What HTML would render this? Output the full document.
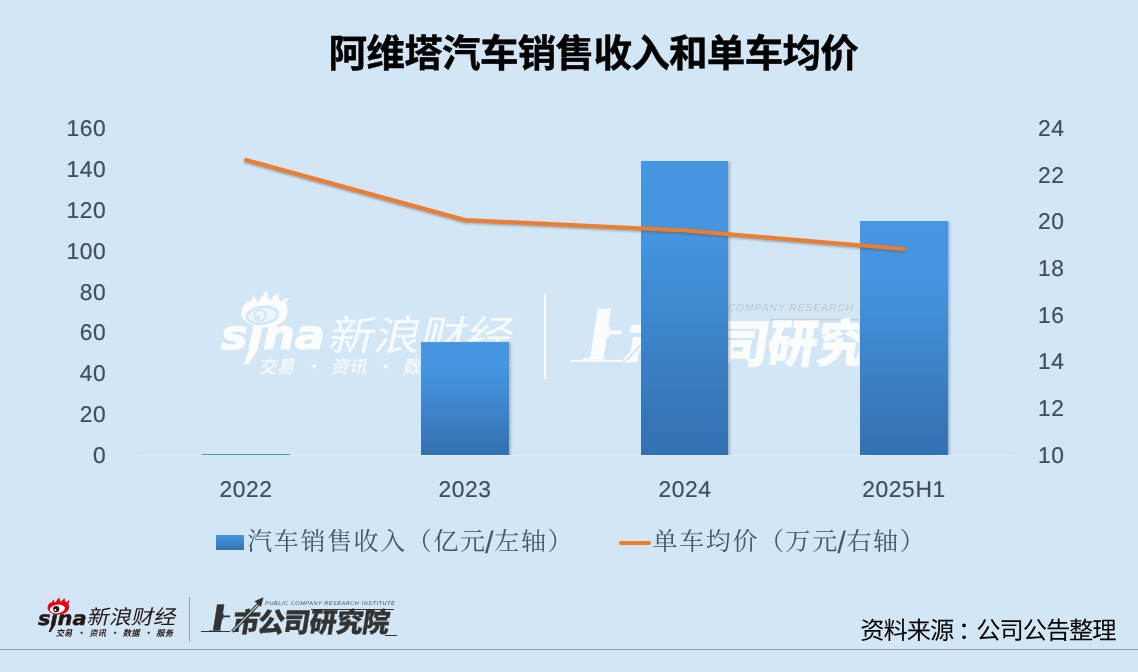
<!DOCTYPE html>
<html lang="zh-CN">
<head>
<meta charset="utf-8">
<title>阿维塔汽车销售收入和单车均价</title>
<style>
html,body{margin:0;padding:0;}
body{text-rendering:geometricPrecision;width:1138px;height:672px;overflow:hidden;background:#d2e6f5;position:relative;font-family:"Liberation Sans","Noto Sans CJK SC",sans-serif;}
.abs{position:absolute;white-space:nowrap;}
.title{-webkit-text-stroke:.45px #000;left:328.6px;top:27.1px;text-align:left;font-size:38.6px;font-weight:700;color:#000;line-height:56px;letter-spacing:-.75px;}
.ax{font-size:22.8px;color:#3f4e66;line-height:24px;letter-spacing:.6px;-webkit-text-stroke:.2px #3f4e66;}
.axl{text-align:right;width:60px;left:46.4px;}
.axr{text-align:left;left:1038px;}
.cat{text-align:center;width:120px;}
.bar{position:absolute;clip-path:inset(-6px -6px 0 -6px);background:linear-gradient(#4696e1 0%,#4595e0 25%,#3370af 100%);box-shadow:1.5px 1px 2px rgba(80,100,130,.35);}
.leg{font-size:25px;color:#44546a;line-height:30px;letter-spacing:1.6px;font-family:"Liberation Sans","Noto Serif CJK SC",serif;font-weight:400}
.sl{font-size:31px;line-height:0;position:relative;top:2.5px;margin:0 -1px 0 -1.5px}
.src{font-size:24.3px;color:#000;line-height:30px;letter-spacing:-1.1px;}
.hr{position:absolute;left:0;width:1138px;top:648.8px;height:1.3px;background:#9e9c9e;}

.lg{position:absolute;transform-origin:0 0;white-space:nowrap;}
.lg *{position:absolute;white-space:nowrap;}
.lg .cn i{position:static;font-style:normal}
.lg .cn i.sh{display:inline-block;letter-spacing:0;margin:0 -.2px 0 -7.7px;transform:scale(1.6,1.3);transform-origin:50% 64%;clip-path:polygon(8px 0,15.6px 0,15.6px 14.9px,19.8px 14.9px,19.8px 16.3px,15.6px 16.3px,15.6px 26.7px,8px 26.7px)}
.lg .sina{left:0px;top:10.5px;font:oblique 700 19.2px/24px "DejaVu Sans",sans-serif;color:#231815;transform:scaleX(1.09);transform-origin:0 0;letter-spacing:0;-webkit-text-stroke:.5px #231815}
.lg .jd{left:11.6px;top:27.5px;width:4.2px;height:8px;background:#231815;transform:skewX(-22deg);clip-path:polygon(0 0,100% 0,55% 100%,0 100%)}
.lg .xl{left:46.8px;top:6.3px;font:400 20px/28px "Noto Sans CJK SC",sans-serif;color:#231815;transform:skewX(-13deg) scaleX(1.112);transform-origin:0 100%;letter-spacing:0}
.lg .tag{left:17px;top:31.1px;font:700 8.3px/12px "Noto Sans CJK SC",sans-serif;color:#231815;transform:skewX(-13deg);transform-origin:0 100%;letter-spacing:.1px;word-spacing:2.2px}
.lg .dv{left:151px;top:1px;width:1px;height:45px;background:#9aa3ad}
.lg .eye{left:8.5px;top:0.5px}
.lg .cn{left:9px;top:6.2px;-webkit-text-stroke:.3px;font:900 27px/36px "Noto Sans CJK SC",sans-serif;color:#333;transform:skewX(-9deg);transform-origin:0 100%;letter-spacing:-1.7px}
.lg .en{left:63.8px;top:4.2px;font:italic 400 5.5px/7px "Liberation Sans",sans-serif;color:#4a4a4a;letter-spacing:.58px}
.lg .l1{left:-0.5px;top:33.6px;width:29px;height:1.5px;background:#333}
.lg .l2{left:183px;top:37.5px;width:12px;height:1.3px;background:#333}
.lg .l3{left:109px;top:11.6px;width:83px;height:1px;background:#333}
.lg .ar{left:26px;top:-1px}
.wm .sina,.wm .xl,.wm .tag,.wm .cn,.wm .en{color:#fff;-webkit-text-stroke-color:#fff}
.wm .jd,.wm .dv,.wm .l1,.wm .l2,.wm .l3{background:#fff}
.wm .l3{background:#c9d0d8}
.wm .tag{opacity:.75}
.wm .xl{opacity:.92;left:48px;top:6.5px;transform:skewX(-13deg) scale(1.075,.96)}
.wm .en{color:#bcc4cc;margin-left:-3.5px}
</style>
</head>
<body>
<div class="abs title">阿维塔汽车销售收入和单车均价</div>

<!-- left axis -->
<div class="abs ax axl" style="top:116px">160</div>
<div class="abs ax axl" style="top:157px">140</div>
<div class="abs ax axl" style="top:198px">120</div>
<div class="abs ax axl" style="top:239px">100</div>
<div class="abs ax axl" style="top:280px">80</div>
<div class="abs ax axl" style="top:320px">60</div>
<div class="abs ax axl" style="top:361px">40</div>
<div class="abs ax axl" style="top:402px">20</div>
<div class="abs ax axl" style="top:443px">0</div>
<!-- right axis -->
<div class="abs ax axr" style="top:116px">24</div>
<div class="abs ax axr" style="top:163px">22</div>
<div class="abs ax axr" style="top:209px">20</div>
<div class="abs ax axr" style="top:256px">18</div>
<div class="abs ax axr" style="top:303px">16</div>
<div class="abs ax axr" style="top:349px">14</div>
<div class="abs ax axr" style="top:396px">12</div>
<div class="abs ax axr" style="top:443px">10</div>

<!-- watermark -->
<div class="abs" id="wm" style="left:0;top:0;width:859px;height:672px;overflow:hidden;opacity:.9;filter:blur(.35px)">
<div class="lg wm" style="left:220.8px;top:287.8px;transform:scale(2.14,2.115)"><span class="sina">sina</span><span class="jd"></span>
<svg class="eye" width="24" height="19" viewBox="0 0 24 19"><path d="M0.6 11.5C0.3 8.5 2 6 4.4 4.9L4.5 6.3C4.9 4.7 5.5 3.6 6.6 2.5C6.7 4 7.5 5 8.7 5.7C9.3 3.6 10.6 1.6 12.9 0.2C12.2 2.2 12.8 3.9 14.2 5C15 3.2 16.2 1.9 18.3 1.2C17.4 2.8 17.8 4.3 19.2 5.4C20 4.4 21.2 3.8 23.1 3.6C21.9 4.8 21.4 6 21.5 7.2C22.5 9.4 22.2 12.2 20.6 14.1C18.7 16.5 14.8 17.8 10.8 17.6C6 17.4 1.3 15.4 0.6 11.5Z" fill="#fff"/><ellipse cx="10.4" cy="11.9" rx="7.3" ry="4" transform="rotate(-8 10.4 11.9)" fill="#f1f7fc" stroke="#d2e6f5" stroke-width="1.2"/><circle cx="9.2" cy="12" r="2.6" fill="#f1f7fc" stroke="#d2e6f5" stroke-width="1"/><circle cx="8.5" cy="12.8" r="1" fill="#d2e6f5"/></svg>
<span class="xl">新浪财经</span><span class="tag">交易 · 资讯 · 数据 · 服务</span></div>
<div class="abs" style="left:544.3px;top:294px;width:2px;height:85px;background:#fff"></div>
<div class="lg wm" style="left:569.7px;top:295.5px;transform:scale(1.84,1.886)"><span class="l1"></span><span class="l2"></span><span class="l3"></span>
<span class="cn"><i class="sh">上</i>市公<i style="letter-spacing:-.7px">司</i><i style="letter-spacing:-.2px">研</i><i style="letter-spacing:-.7px">究</i>院</span><span class="en">PUBLIC COMPANY RESEARCH INSTITUTE</span>
<svg class="ar" width="38" height="38" viewBox="0 0 38 38"><path d="M4.2 35.6L31.2 7.4" stroke="#fff" stroke-width="3.3" fill="none"/><path d="M4.6 35.2L30 8.7" stroke="#d2e6f5" stroke-width="1.1" fill="none"/><path d="M35.6 1.2L26.4 5.2L33 10.8Z" fill="#fff"/></svg></div>
</div>

<!-- axis line -->
<div class="abs" style="left:137px;top:455px;width:877px;height:1px;background:#dcebf6"></div>

<!-- bars -->
<div class="bar" style="left:202px;top:454px;width:88px;height:1px;background:#4a90d9;box-shadow:none"></div>
<div class="bar" style="left:421px;top:342px;width:88px;height:113px"></div>
<div class="bar" style="left:641px;top:161px;width:87px;height:294px"></div>
<div class="bar" style="left:860px;top:221px;width:88px;height:234px"></div>

<!-- line -->
<svg class="abs" style="left:0;top:0;filter:blur(1.2px)" width="1138" height="672" viewBox="0 0 1138 672">
<polyline points="246,161.5 465,221.5 685,232 904,250.5" fill="none" stroke="#55504a" stroke-opacity=".45" stroke-width="4" stroke-linecap="round" stroke-linejoin="round"/>
</svg>
<svg class="abs" style="left:0;top:0" width="1138" height="672" viewBox="0 0 1138 672">
<polyline points="246,160 465,220 685,230.5 904,249" fill="none" stroke="#ed7d31" stroke-width="4" stroke-linecap="round" stroke-linejoin="round"/>
</svg>

<!-- category labels -->
<div class="abs ax cat" style="left:186px;top:477px">2022</div>
<div class="abs ax cat" style="left:405px;top:477px">2023</div>
<div class="abs ax cat" style="left:625px;top:477px">2024</div>
<div class="abs ax cat" style="left:844px;top:477px">2025H1</div>

<!-- legend -->
<div class="abs" style="left:216px;top:535px;width:28px;height:15px;background:linear-gradient(#4696e1,#3672b0)"></div>
<div class="abs leg" style="left:247.2px;top:527px">汽车销售收入（亿元<span class="sl">/</span>左轴）</div>
<div class="abs" style="left:619px;top:540.6px;width:32px;height:4.4px;border-radius:2px;background:#ed7d31"></div>
<div class="abs leg" style="left:652.6px;top:527px">单车均价（万元<span class="sl">/</span>右轴）</div>


<!-- footer logos -->
<div class="lg" style="left:38px;top:596px"><span class="sina">sina</span><span class="jd"></span>
<svg class="eye" width="24" height="19" viewBox="0 0 24 19"><path d="M0.6 11.5C0.3 8.5 2 6 4.4 4.9L4.5 6.3C4.9 4.7 5.5 3.6 6.6 2.5C6.7 4 7.5 5 8.7 5.7C9.3 3.6 10.6 1.6 12.9 0.2C12.2 2.2 12.8 3.9 14.2 5C15 3.2 16.2 1.9 18.3 1.2C17.4 2.8 17.8 4.3 19.2 5.4C20 4.4 21.2 3.8 23.1 3.6C21.9 4.8 21.4 6 21.5 7.2C22.5 9.4 22.2 12.2 20.6 14.1C18.7 16.5 14.8 17.8 10.8 17.6C6 17.4 1.3 15.4 0.6 11.5Z" fill="#e60012"/><ellipse cx="10.4" cy="11.9" rx="7.6" ry="4.3" transform="rotate(-8 10.4 11.9)" fill="#fff"/><circle cx="9.2" cy="12" r="3.1" fill="#231815"/><circle cx="8.3" cy="13" r="1" fill="#fff"/></svg>
<span class="xl">新浪财经</span><span class="tag">交易 · 资讯 · 数据 · 服务</span><span class="dv"></span></div>
<div class="lg" style="left:201.5px;top:597px"><span class="l1"></span><span class="l2"></span><span class="l3"></span>
<span class="cn"><i class="sh">上</i>市公<i style="letter-spacing:-.7px">司</i><i style="letter-spacing:-.2px">研</i><i style="letter-spacing:-.7px">究</i>院</span><span class="en">PUBLIC COMPANY RESEARCH INSTITUTE</span>
<svg class="ar" width="38" height="38" viewBox="0 0 38 38"><path d="M4.2 35.6L31.2 7.4" stroke="#333" stroke-width="3.3" fill="none"/><path d="M4.6 35.2L30 8.7" stroke="#d2e6f5" stroke-width="1.1" fill="none"/><path d="M35.6 1.2L26.4 5.2L33 10.8Z" fill="#333"/></svg></div>
<!-- source -->
<div class="abs src" style="left:860.3px;top:616.9px">资料来源<span style="position:relative;left:5px">：</span>公司公告整理</div>
<div class="hr"></div>
</body>
</html>
